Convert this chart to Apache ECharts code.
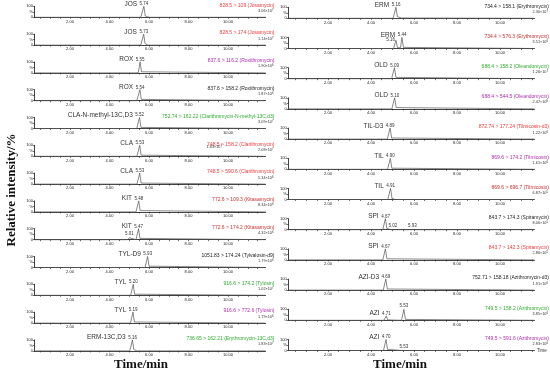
<!DOCTYPE html>
<html><head><meta charset="utf-8">
<script src="https://cdn.jsdelivr.net/npm/echarts@6/dist/echarts.min.js"></script>
<style>html,body{margin:0;padding:0;background:#fff}#c{width:550px;height:377px}</style>
</head><body><div id="c"></div>
<script>
// ---------- data ----------
const leftNames = ['JOS','JOS','ROX','ROX','CLA-N-methyl-13C,D3','CLA','CLA','KIT','KIT','TYL-D9','TYL','TYL','ERM-13C,D3'];
const leftTransitions = ['828.5 > 109 (Josamycin)','828.5 > 174 (Josamycin)','837.6 > 116.2 (Roxithromycin)','837.6 > 158.2 (Roxithromycin)','752.74 > 162.22 (Clarithromycin-N-methyl-13C,d3)','748.5 > 158.2 (Clarithromycin)','748.5 > 590.6 (Clarithromycin)','772.6 > 109.3 (Kitasamycin)','772.6 > 174.2 (Kitasamycin)','1051.83 > 174.24 (Tylvalosin-d9)','916.6 > 174.2 (Tylosin)','916.6 > 772.6 (Tylosin)','736.65 > 162.21 (Erythromycin-13C,d3)'];
const leftIntensity = [['3.06','7'],['1.14','7'],['1.90','6'],['1.87','6'],['3.09','7'],['2.08','7'],['5.34','6'],['8.34','6'],['4.32','6'],['1.79','6'],['1.02','7'],['1.79','6'],['1.83','7']];
const leftPeakRT = [[5.74],[5.73],[5.55],[5.54],[5.52],[5.53],[5.53],[5.48],[5.47,5.01],[5.93],[5.20],[5.19],[5.16]];

const rightNames = ['ERM','ERM','OLD','OLD','TIL-D3','TIL','TIL','SPI','SPI','AZI-D3','AZI','AZI'];
const rightTransitions = ['734.4 > 158.1 (Erythromycin)','734.4 > 576.3 (Erythromycin)','688.4 > 158.2 (Oleandomycin)','688.4 > 544.5 (Oleandomycin)','872.74 > 177.24 (Tilmicosin-d3)','869.6 > 174.2 (Tilmicosin)','869.6 > 696.7 (Tilmicosin)','843.7 > 174.3 (Spiramycin)','843.7 > 142.3 (Spiramycin)','752.71 > 158.18 (Azithromycin-d3)','749.5 > 158.2 (Azithromycin)','749.5 > 591.6 (Azithromycin)'];
const rightIntensity = [['2.30','7'],['3.51','6'],['1.26','7'],['2.47','6'],['1.22','6'],['1.61','6'],['6.87','5'],['8.06','5'],['2.86','5'],['1.91','6'],['3.85','6'],['2.83','6']];
const rightPeakRT = [[5.16],[5.44,5.16],[5.09],[5.10],[4.89],[4.90],[4.91],[4.67,5.02,5.93],[4.67],[4.69],[4.71,5.53],[4.70,5.53]];

const extraIntensityCLA = ['1.83','7'];
const xTickLabels = [2,4,6,8,10];

// chromatogram traces [time/min, relative intensity %]
const trL1 = [[0.2,0],[5.58,0],[5.66,5],[5.74,100],[5.81,12],[5.9,2],[6.0,0],[11.9,0]];
const trL2 = [[0.2,0],[5.58,0],[5.66,6],[5.73,100],[5.8,14],[5.86,6],[5.95,0],[11.9,0]];
const trL3 = [[0.2,0],[5.34,0],[5.41,14],[5.46,4],[5.55,100],[5.62,10],[5.7,0],[11.9,0]];
const trL4 = [[0.2,0],[5.38,0],[5.46,6],[5.54,100],[5.61,12],[5.7,0],[11.9,0]];
const trL5 = [[0.2,0],[5.38,0],[5.45,5],[5.52,100],[5.59,10],[5.68,0],[11.9,0]];
const trL6 = [[0.2,0],[5.39,0],[5.46,5],[5.53,100],[5.6,10],[5.69,0],[11.9,0]];
const trL7 = [[0.2,0],[5.39,0],[5.46,6],[5.53,100],[5.6,9],[5.69,0],[11.9,0]];
const trL8 = [[0.2,0],[5.34,0],[5.41,6],[5.48,100],[5.55,12],[5.64,0],[11.9,0]];
const trL9 = [[0.2,0],[4.9,0],[5.01,18],[5.1,0],[5.34,0],[5.4,8],[5.47,100],[5.54,12],[5.63,0],[11.9,0]];
const trL10 = [[0.2,0],[5.8,0],[5.86,6],[5.93,100],[6.0,12],[6.08,0],[11.9,0]];
const trL11 = [[0.2,0],[5.07,0],[5.13,6],[5.2,100],[5.27,10],[5.35,0],[11.9,0]];
const trL12 = [[0.2,0],[5.06,0],[5.12,6],[5.19,100],[5.26,10],[5.34,0],[11.9,0]];
const trL13 = [[0.2,0],[5.03,0],[5.09,6],[5.16,100],[5.23,12],[5.3,3],[5.4,0],[11.9,0]];

const trR1 = [[0.15,0],[5.03,0],[5.1,6],[5.16,100],[5.23,15],[5.32,4],[5.42,3],[5.5,0],[11.6,0]];
const trR2 = [[0.15,0],[5.05,0],[5.1,5],[5.16,75],[5.23,8],[5.3,2],[5.37,6],[5.44,100],[5.51,10],[5.6,0],[11.6,0]];
const trR3 = [[0.15,0],[4.96,0],[5.02,6],[5.09,100],[5.16,12],[5.25,0],[11.6,0]];
const trR4 = [[0.15,0],[4.97,0],[5.03,6],[5.10,100],[5.17,12],[5.26,0],[11.6,0]];
const trR5 = [[0.15,0],[4.76,0],[4.82,6],[4.89,100],[4.96,10],[5.05,0],[11.6,0]];
const trR6 = [[0.15,0],[4.77,0],[4.83,6],[4.90,100],[4.97,10],[5.06,0],[11.6,0]];
const trR7 = [[0.15,0],[4.78,0],[4.84,6],[4.91,100],[4.98,8],[5.05,6],[5.14,0],[11.6,0]];
const trR8 = [[0.15,0],[4.55,0],[4.61,6],[4.67,100],[4.74,10],[4.82,0],[4.95,0],[5.02,8],[5.1,0],[5.85,0],[5.93,8],[6.01,0],[11.6,0]];
const trR9 = [[0.15,0],[4.55,0],[4.61,6],[4.67,100],[4.74,10],[4.82,0],[11.6,0]];
const trR10 = [[0.15,0],[4.57,0],[4.63,6],[4.69,100],[4.76,10],[4.84,0],[11.6,0]];
const trR11 = [[0.15,0],[4.6,0],[4.65,3],[4.71,40],[4.77,4],[4.85,0],[5.42,0],[5.47,6],[5.53,100],[5.6,8],[5.68,0],[11.6,0]];
const trR12 = [[0.15,0],[4.58,0],[4.64,6],[4.70,100],[4.77,10],[4.85,0],[5.45,0],[5.53,3],[5.61,0],[11.6,0]];

const leftTraces = [trL1,trL2,trL3,trL4,trL5,trL6,trL7,trL8,trL9,trL10,trL11,trL12,trL13];
const rightTraces = [trR1,trR2,trR3,trR4,trR5,trR6,trR7,trR8,trR9,trR10,trR11,trR12];

// ---------- styles ----------
const RED='#f03a3a', DRED='#c8302e', GRN='#2faa2f', PUR='#b02cb0', BLK='#222';
const leftColors = [RED,RED,PUR,BLK,GRN,RED,RED,DRED,DRED,BLK,GRN,PUR,GRN];
const rightColors = [BLK,DRED,GRN,PUR,RED,PUR,DRED,BLK,RED,BLK,GRN,PUR];
const SANS = '"Liberation Sans", Arial, sans-serif';
const NARROW = '"Liberation Sans Narrow", "Liberation Sans", sans-serif';
const tickVals = [0.5,1,1.5,2,2.5,3,3.5,4,4.5,5,5.5,6,6.5,7,7.5,8,8.5,9,9.5,10,10.5,11,11.5];

const cols = [
  {names:leftNames, trans:leftTransitions, inten:leftIntensity, rts:leftPeakRT, traces:leftTraces, colors:leftColors,
   gridLeft:34.45, gridWidth:231.1, xmin:0.2, xmax:11.9, base0:17.3, step:27.8, textRight:274.5},
  {names:rightNames, trans:rightTransitions, inten:rightIntensity, rts:rightPeakRT, traces:rightTraces, colors:rightColors,
   gridLeft:288.2, gridWidth:246.2, xmin:0.15, xmax:11.6, base0:18.3, step:30.2, textRight:549}
];
const PH = 11;
const labelPlacement = {'1-1':'left'};
const supRich = {a:{fontSize:3.8, fill:'#333', fontFamily:SANS}, s:{fontSize:2.8, fill:'#333', fontFamily:SANS, verticalAlign:'top', padding:[0,0,1.5,0]}};

const grid=[], xAxis=[], yAxis=[], series=[], graphic=[];
let gi = 0;
cols.forEach((c, ci) => {
  c.traces.forEach((tr, pi) => {
    const base = c.base0 + c.step*pi;
    grid.push({left:c.gridLeft, width:c.gridWidth, top:base-PH, height:PH});
    const isLastRight = (ci===1 && pi===c.traces.length-1);
    xAxis.push({type:'value', gridIndex:gi, min:c.xmin, max:c.xmax,
      name: isLastRight ? 'Time' : '', nameLocation:'end', nameGap:2.5,
      nameTextStyle:{fontSize:4.5, color:'#333', fontFamily:SANS, verticalAlign:'middle'},
      axisLine:{show:true, lineStyle:{color:'#111', width:0.8}},
      axisTick:{show:true, customValues:tickVals, length:1.5, lineStyle:{color:'#111', width:0.6}},
      axisLabel:{show:true, customValues:xTickLabels, formatter:v=>v.toFixed(2), fontSize:4, color:'#222', margin:2.2, fontFamily:SANS},
      splitLine:{show:false}});
    yAxis.push({type:'value', gridIndex:gi, min:0, max:100, interval:50,
      axisLine:{show:true, lineStyle:{color:'#111', width:0.8}},
      axisTick:{show:true, length:1.5, lineStyle:{color:'#111', width:0.6}},
      axisLabel:{show:true, fontSize:4, color:'#222', margin:1.5, fontFamily:SANS, formatter:v=> v===50?'%':String(v)},
      splitLine:{show:false}});
    const rts = c.rts[pi];
    const data = tr.map(p => {
      const k = rts.indexOf(p[0]);
      if (k < 0) return p;
      if (k === 0) {
        return {value:p, label:{show:true, position:'top', distance:0, align:'right', offset:[4.5,1.2],
          formatter:'{n|'+c.names[pi]+'}{r|'+p[0].toFixed(2)+'}',
          rich:{n:{fontSize:6.5, color:'#333', fontFamily:NARROW, padding:[0,2.5,0,0]}, r:{fontSize:4.5, color:'#333', fontFamily:SANS}}}};
      }
      const pos = labelPlacement[ci+'-'+pi] || 'top';
      return {value:p, label:{show:true, position:pos, distance:1, formatter:p[0].toFixed(2), fontSize:4.5, color:'#333', fontFamily:SANS}};
    });
    series.push({type:'line', xAxisIndex:gi, yAxisIndex:gi, data:data, symbol:'circle', symbolSize:0.01, showSymbol:true, showAllSymbol:true,
      lineStyle:{color:'#555', width:0.7}, itemStyle:{color:'#555'}, clip:false, silent:true, z:3});
    const iv = c.inten[pi];
    graphic.push({type:'text', x:c.textRight, y:base-12, silent:true,
      style:{text:c.trans[pi], fontSize:5, fontFamily:SANS, fill:c.colors[pi], textAlign:'right', textVerticalAlign:'middle'}});
    graphic.push({type:'text', x:c.textRight-1, y:base-6.6, silent:true,
      style:{text:'{a|'+iv[0]+'×10}{s|'+iv[1]+'}', rich:supRich, fontSize:3.8, fontFamily:SANS, fill:'#333', textAlign:'right', textVerticalAlign:'middle'}});
    gi++;
  });
});
// extra intensity text in CLA panel
const claBase = cols[0].base0 + cols[0].step*5;
graphic.push({type:'text', x:222, y:claBase-9.7, silent:true,
  style:{text:'{a|'+extraIntensityCLA[0]+'×10}{s|'+extraIntensityCLA[1]+'}', rich:supRich, fontSize:3.8, fontFamily:SANS, fill:'#333', textAlign:'right', textVerticalAlign:'middle'}});
const SERIF = 'bold 13px "Liberation Serif", "Times New Roman", serif';
graphic.push({type:'text', x:12, y:190, rotation:Math.PI/2, style:{text:'Relative intensity/%', font:SERIF, fill:'#111', textAlign:'center', textVerticalAlign:'middle'}});
graphic.push({type:'text', x:141, y:365, style:{text:'Time/min', font:SERIF, fill:'#111', textAlign:'center', textVerticalAlign:'middle'}});
graphic.push({type:'text', x:400, y:365, style:{text:'Time/min', font:SERIF, fill:'#111', textAlign:'center', textVerticalAlign:'middle'}});

const chart = echarts.init(document.getElementById('c'), null, {renderer:'canvas'});
chart.setOption({animation:false, backgroundColor:'#fff', grid, xAxis, yAxis, series, graphic});
</script></body></html>
